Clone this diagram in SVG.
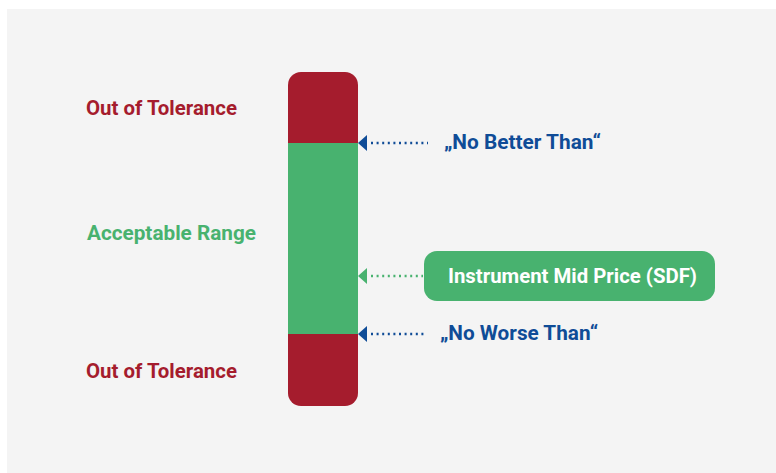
<svg xmlns="http://www.w3.org/2000/svg" width="776" height="473" viewBox="0 0 776 473">
  <defs>
    <style>
      .lbl { font-family: Roboto, "Liberation Sans", Arial, sans-serif; font-weight: bold; font-size: 20px; }
      .red { fill: #A51C2D; }
      .green { fill: #48B26F; }
      .blue { fill: #0F4C97; }
      .dotb { stroke: #0F4C97; stroke-width: 2.5; stroke-dasharray: 2 3.6; fill: none; }
      .dotg { stroke: #48B26F; stroke-width: 2.5; stroke-dasharray: 2 3.6; fill: none; }
    </style>
    <clipPath id="barclip">
      <rect x="288" y="72" width="70" height="334" rx="13" ry="13"/>
    </clipPath>
  </defs>
  <rect x="7" y="9" width="769" height="464" fill="#F4F4F4"/>

  <g id="bar">
    <g clip-path="url(#barclip)">
      <rect x="288" y="72" width="70" height="71" class="red"/>
      <rect x="288" y="143" width="70" height="191" class="green"/>
      <rect x="288" y="334" width="70" height="72" class="red"/>
    </g>
  </g>

  <g id="label-out-top">
    <text x="86" y="115" class="lbl red" textLength="151" lengthAdjust="spacingAndGlyphs">Out of Tolerance</text>
  </g>
  <g id="label-acceptable">
    <text x="87" y="240" class="lbl green" textLength="169" lengthAdjust="spacingAndGlyphs">Acceptable Range</text>
  </g>
  <g id="label-out-bottom">
    <text x="86" y="378" class="lbl red" textLength="151" lengthAdjust="spacingAndGlyphs">Out of Tolerance</text>
  </g>

  <g id="node-no-better">
    <text x="444" y="149" class="lbl blue" textLength="157" lengthAdjust="spacingAndGlyphs">„No Better Than“</text>
  </g>
  <g id="node-mid-price">
    <rect x="424" y="251" width="291" height="50" rx="13" ry="13" class="green"/>
    <text x="448" y="283" class="lbl" fill="#FFFFFF" textLength="249" lengthAdjust="spacingAndGlyphs">Instrument Mid Price (SDF)</text>
  </g>
  <g id="node-no-worse">
    <text x="440" y="340" class="lbl blue" textLength="158" lengthAdjust="spacingAndGlyphs">„No Worse Than“</text>
  </g>

  <g id="connectors">
    <line x1="371" y1="143" x2="428" y2="143" class="dotb"/>
    <polygon points="358,143 367,135 367,151" class="blue"/>
    <line x1="371" y1="276" x2="423" y2="276" class="dotg"/>
    <polygon points="358,276 367,268 367,284" class="green"/>
    <line x1="371" y1="334" x2="425" y2="334" class="dotb"/>
    <polygon points="358,334 367,326 367,342" class="blue"/>
  </g>
</svg>
